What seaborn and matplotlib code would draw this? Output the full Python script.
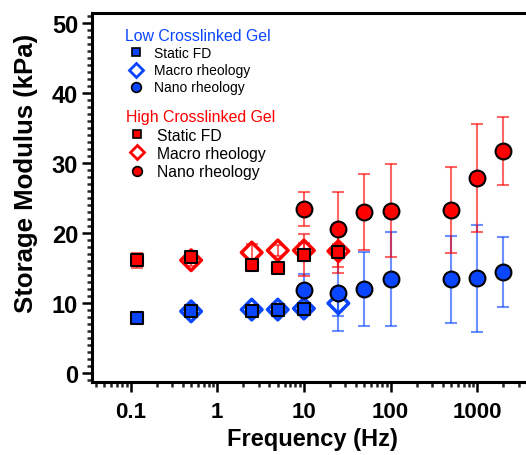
import numpy as np
import pandas as pd
import matplotlib
matplotlib.use('Agg')
import matplotlib.pyplot as plt
import seaborn as sns
from matplotlib.lines import Line2D
from matplotlib.ticker import FixedLocator, MultipleLocator, LogLocator, NullFormatter

# Data (frequency in Hz, storage modulus in kPa)
low_fd_freq = [0.12, 0.5, 2.5, 5, 10]
low_fd_mod = [7.9, 8.8, 8.9, 9.0, 9.2]
low_fd_err = [0.3, 0.3, 0.3, 0.3, 0.3]

low_macro_freq = [0.5, 2.5, 5, 10, 25]
low_macro_mod = [8.8, 9.05, 9.05, 9.2, 9.95]
low_macro_err = [0.5, 0.6, 0.6, 0.8, 1.8]

low_nano_freq = [10, 25, 50, 100, 500, 1000, 2000]
low_nano_mod = [11.8, 11.4, 12.0, 13.4, 13.4, 13.5, 14.4]
low_nano_err = [2.3, 5.4, 5.3, 6.7, 6.2, 7.6, 5.0]

high_fd_freq = [0.12, 0.5, 2.5, 5, 10, 25]
high_fd_mod = [16.1, 16.5, 15.4, 15.0, 16.9, 17.3]
high_fd_err = [1.1, 0.6, 0.5, 0.5, 3.0, 3.0]

high_macro_freq = [0.5, 2.5, 5, 10, 25]
high_macro_mod = [16.1, 17.2, 17.5, 17.5, 17.4]
high_macro_err = [0.8, 1.2, 0.8, 1.0, 1.0]

high_nano_freq = [10, 25, 50, 100, 500, 1000, 2000]
high_nano_mod = [23.4, 20.5, 23.0, 23.2, 23.3, 27.9, 31.7]
high_nano_err = [2.4, 5.4, 5.4, 6.7, 6.1, 7.7, 4.9]

x_ticks = [0.1, 1, 10, 100, 1000]
x_tick_labels = ['0.1', '1', '10', '100', '1000']
y_ticks = [0, 10, 20, 30, 40, 50]

BLUE = '#0a46ff'
RED = '#ff0000'

sns.set_style('ticks')
plt.rcParams['font.family'] = ['Liberation Sans', 'DejaVu Sans']
plt.rcParams['text.color'] = 'black'
plt.rcParams['axes.labelcolor'] = 'black'

fig = plt.figure(figsize=(5.26, 4.56), dpi=100)
ax = fig.add_axes([0.175, 0.160, 0.825, 0.809])


# Error bars first, then markers on top
def draw_bars(freq, mod, err, color):
    ax.errorbar(freq, mod, yerr=err, fmt='none', ecolor=color, elinewidth=1.5,
                capsize=4, capthick=1.5, alpha=0.6, zorder=1)


draw_bars(low_fd_freq, low_fd_mod, low_fd_err, BLUE)
draw_bars(low_macro_freq, low_macro_mod, low_macro_err, BLUE)
draw_bars(low_nano_freq, low_nano_mod, low_nano_err, BLUE)
draw_bars(high_fd_freq, high_fd_mod, high_fd_err, RED)
draw_bars(high_macro_freq, high_macro_mod, high_macro_err, RED)
draw_bars(high_nano_freq, high_nano_mod, high_nano_err, RED)

# Hollow diamonds (macro rheology)
for freq, mod, color in [(low_macro_freq, low_macro_mod, BLUE),
                         (high_macro_freq, high_macro_mod, RED)]:
    sns.scatterplot(x=freq, y=mod, marker='D', s=110, facecolors='none',
                    edgecolor=color, linewidth=2.5, ax=ax, zorder=2)

# Filled squares (static FD) and circles (nano rheology)
for freq, mod, color in [(low_fd_freq, low_fd_mod, BLUE),
                         (high_fd_freq, high_fd_mod, RED)]:
    sns.scatterplot(x=freq, y=mod, marker='s', s=70, color=color,
                    edgecolor='black', linewidth=1.5, ax=ax, zorder=3)

for freq, mod, color in [(low_nano_freq, low_nano_mod, BLUE),
                         (high_nano_freq, high_nano_mod, RED)]:
    sns.scatterplot(x=freq, y=mod, marker='o', s=130, color=color,
                    edgecolor='black', linewidth=1.5, ax=ax, zorder=4)

ax.set_xscale('log')
ax.set_xlim(0.036, 3650)
ax.set_ylim(-1.3, 51.4)
ax.xaxis.set_major_locator(FixedLocator(x_ticks))
ax.set_xticklabels(x_tick_labels)
ax.xaxis.set_minor_locator(LogLocator(base=10, subs=np.arange(2, 10), numticks=20))
ax.xaxis.set_minor_formatter(NullFormatter())
ax.set_yticks(y_ticks)
ax.yaxis.set_minor_locator(MultipleLocator(1))

for side in ['left', 'bottom', 'top']:
    ax.spines[side].set_linewidth(2.2)
    ax.spines[side].set_color('black')
ax.spines['right'].set_visible(False)

ax.tick_params(axis='both', which='major', direction='out', length=7, width=1.8,
               colors='black')
ax.tick_params(axis='both', which='minor', direction='out', length=3.5, width=1.8)
ax.tick_params(axis='x', which='major', pad=7, labelsize=16)
ax.tick_params(axis='y', which='major', pad=3, labelsize=17)
for lbl in ax.get_xticklabels() + ax.get_yticklabels():
    lbl.set_fontweight('bold')

ax.set_xlabel('Frequency (Hz)', fontsize=17, fontweight='bold')
ax.set_ylabel('Storage Modulus (kPa)', fontsize=18.5, fontweight='bold')
ax.xaxis.set_label_coords(0.509, -0.122)
ax.yaxis.set_label_coords(-0.125, 0.569)


def legend_handles(color):
    return [
        Line2D([], [], linestyle='none', marker='s', markersize=6, markerfacecolor=color,
               markeredgecolor='black', markeredgewidth=1.2),
        Line2D([], [], linestyle='none', marker='D', markersize=7, markerfacecolor='none',
               markeredgecolor=color, markeredgewidth=2),
        Line2D([], [], linestyle='none', marker='o', markersize=7, markerfacecolor=color,
               markeredgecolor='black', markeredgewidth=1.2),
    ]


labels = ['Static FD', 'Macro rheology', 'Nano rheology']

leg_low = ax.legend(legend_handles(BLUE), labels, title='Low Crosslinked Gel',
                    loc='upper left', bbox_to_anchor=(0.064, 0.974), frameon=False,
                    fontsize=10, title_fontsize=11.4, handletextpad=0.43,
                    labelspacing=0.22, borderaxespad=0, handlelength=1.6)
leg_low.get_title().set_color(BLUE)
leg_low._legend_box.align = 'left'
ax.add_artist(leg_low)

leg_high = ax.legend(legend_handles(RED), labels, title='High Crosslinked Gel',
                     loc='upper left', bbox_to_anchor=(0.064, 0.757), frameon=False,
                     fontsize=11.3, title_fontsize=11.4, handletextpad=0.57,
                     labelspacing=0.22, borderaxespad=0, handlelength=1.4)
leg_high.get_title().set_color(RED)
leg_high._legend_box.align = 'left'

fig.savefig('out.png', dpi=100)
